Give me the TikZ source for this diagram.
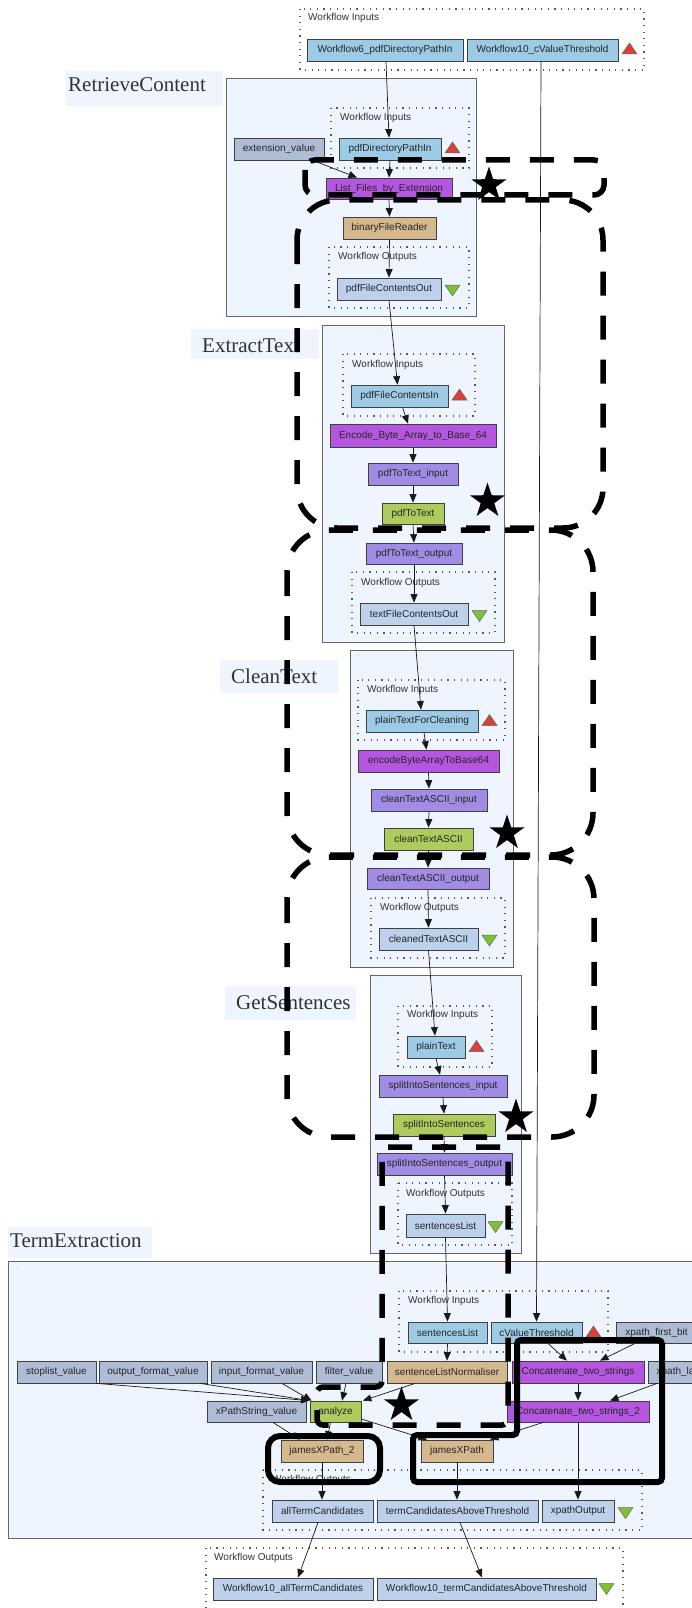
\documentclass[tikz,border=0pt]{standalone}
\usepackage{fontspec}
\setmainfont{Liberation Serif}
\newfontfamily\sansf{Liberation Sans}
\usetikzlibrary{shapes.geometric,arrows.meta}
\definecolor{inblue}{HTML}{9DCBE5}
\definecolor{outblue}{HTML}{BDD0EC}
\definecolor{constc}{HTML}{AFBCD6}
\definecolor{purp}{HTML}{B556E0}
\definecolor{lpurp}{HTML}{A08CE4}
\definecolor{grn}{HTML}{AECB5E}
\definecolor{tanc}{HTML}{D6B88E}
\definecolor{clbg}{HTML}{EFF5FE}
\definecolor{trired}{HTML}{D8403A}
\definecolor{trigreen}{HTML}{7CC231}
\tikzset{
  nd/.style={draw=black!75, line width=0.8pt, inner sep=0pt, font=\sansf\fontsize{10}{12}\selectfont, text=black!85},
  sz/.style n args={2}{minimum width=#1pt, minimum height=#2pt},
  cluster/.style={draw=black!60, line width=0.9pt, fill=clbg},
  dotbox/.style={draw=black!65, line width=1.1pt, dash pattern=on 1.2pt off 5.4pt},
  dotlabel/.style={anchor=west, inner sep=0pt, font=\sansf\fontsize{10}{12}\selectfont, text=black!80},
  title/.style={anchor=base west, inner sep=0pt, font=\fontsize{21}{24}\selectfont, text=black!80},
  titlebg/.style={fill=clbg, draw=none},
  tick/.style={inner sep=0pt, font=\sansf\fontsize{5}{5}\selectfont, text=black!60},
  edge/.style={draw=black!90, line width=0.7pt, -{Triangle[length=8.5pt,width=7pt]}},
  tri/.style={draw=black!60, line width=0.5pt},
  bigdash/.style={draw=black, line width=5.5pt, dash pattern=on 24pt off 20pt},
  bigsolid/.style={draw=black, line width=6pt},
  starn/.style={star, star points=5, star point ratio=2.6, fill=black, draw=none, minimum size=37pt, inner sep=0pt}
}
\newcommand\uptri[2]{\draw[tri, fill=trired] (#1-7.5,#2+5.5) -- (#1+7.5,#2+5.5) -- (#1,#2-5.5) -- cycle;}
\newcommand\dntri[2]{\draw[tri, fill=trigreen] (#1-7.5,#2-5.5) -- (#1+7.5,#2-5.5) -- (#1,#2+5.5) -- cycle;}
\begin{document}
\begin{tikzpicture}[x=1pt,y=-1pt]
\useasboundingbox (0,0) rectangle (692,1608);
\clip (0,0) rectangle (692,1608);
\fill[white] (0,0) rectangle (692,1608);

% clusters
\draw[cluster] (226,78) rectangle (476,316);
\draw[cluster] (322,325) rectangle (504,642);
\draw[cluster] (350,650) rectangle (513,967);
\draw[cluster] (370,975) rectangle (521,1253);
\draw[cluster] (8,1261) rectangle (712,1538);

% cluster titles
\fill[titlebg] (66,71) rectangle (223,106);
\node[title] (tRC) at (68,92) {RetrieveContent};
\fill[titlebg] (191,329) rectangle (319,359);
\node[title] (tET) at (202,352) {ExtractText};
\fill[titlebg] (220,660) rectangle (338,693);
\node[title] (tCT) at (231,683) {CleanText};
\fill[titlebg] (225,986) rectangle (356,1020);
\node[title] (tGS) at (236,1009) {GetSentences};
\fill[titlebg] (8,1227) rectangle (152,1258);
\node[title] (tTE) at (10,1247) {TermExtraction};

\node[tick] (k1) at (378,332) {'};
\node[tick] (k2) at (359,657) {'};
\node[tick] (k3) at (378,983) {'};
\node[tick] (k4) at (17,1270) {'};

% dotted port groups
\draw[dotbox] (300,9) rectangle (644,70);
\node[dotlabel] (l1) at (308,18) {Workflow Inputs};
\draw[dotbox] (331,108) rectangle (469,168);
\node[dotlabel] (l2) at (340,118) {Workflow Inputs};
\draw[dotbox] (329,247) rectangle (469,308);
\node[dotlabel] (l3) at (338,257) {Workflow Outputs};
\draw[dotbox] (343,354) rectangle (475,416);
\node[dotlabel] (l4) at (352,365) {Workflow Inputs};
\draw[dotbox] (352,572) rectangle (495,633);
\node[dotlabel] (l5) at (361,583) {Workflow Outputs};
\draw[dotbox] (358,680) rectangle (505,740);
\node[dotlabel] (l6) at (367,690) {Workflow Inputs};
\draw[dotbox] (371,898) rectangle (505,958);
\node[dotlabel] (l7) at (380,908) {Workflow Outputs};
\draw[dotbox] (398,1006) rectangle (492,1067);
\node[dotlabel] (l8) at (407,1015) {Workflow Inputs};
\draw[dotbox] (398,1183) rectangle (512,1245);
\node[dotlabel] (l9) at (406,1194) {Workflow Outputs};
\draw[dotbox] (399,1291) rectangle (608,1352);
\node[dotlabel] (l10) at (408,1301) {Workflow Inputs};
\draw[dotbox] (263,1470) rectangle (642,1530);
\node[dotlabel] (l11) at (272,1480) {Workflow Outputs};
\draw[dotbox] (206,1548) rectangle (623,1612);
\node[dotlabel] (l12) at (214,1558) {Workflow Outputs};

% nodes
\node[nd, sz={156}{22}, fill=inblue] (wf6) at (385,50) {Workflow6\_pdfDirectoryPathIn};
\node[nd, sz={151}{22}, fill=inblue] (wf10) at (542.5,50) {Workflow10\_cValueThreshold};
\node[nd, sz={90}{22}, fill=constc] (extv) at (279,149) {extension\_value};
\node[nd, sz={102}{22}, fill=inblue] (pdfdir) at (390,149) {pdfDirectoryPathIn};
\node[nd, sz={126}{21}, fill=purp] (lfe) at (389,188.5) {List\_Files\_by\_Extension};
\node[nd, sz={93}{22}, fill=tanc] (bfr) at (389.5,228) {binaryFileReader};
\node[nd, sz={104}{22}, fill=outblue] (pfco) at (389,289) {pdfFileContentsOut};

\node[nd, sz={97}{22}, fill=inblue] (pfci) at (399.5,396) {pdfFileContentsIn};
\node[nd, sz={166}{23}, fill=purp] (enc) at (413,435.5) {Encode\_Byte\_Array\_to\_Base\_64};
\node[nd, sz={90}{22}, fill=lpurp] (pti) at (413,474) {pdfToText\_input};
\node[nd, sz={62}{21}, fill=grn] (ptt) at (413,513.5) {pdfToText};
\node[nd, sz={96}{21}, fill=lpurp] (pto) at (414,553.5) {pdfToText\_output};
\node[nd, sz={108}{22}, fill=outblue] (tfco) at (414,614) {textFileContentsOut};

\node[nd, sz={112}{22}, fill=inblue] (ptfc) at (422,721) {plainTextForCleaning};
\node[nd, sz={141}{22}, fill=purp] (ebab) at (428.5,761) {encodeByteArrayToBase64};
\node[nd, sz={116}{22}, fill=lpurp] (ctai) at (429,800) {cleanTextASCII\_input};
\node[nd, sz={89}{22}, fill=grn] (cta) at (428.5,839) {cleanTextASCII};
\node[nd, sz={122}{21}, fill=lpurp] (ctao) at (428,878.5) {cleanTextASCII\_output};
\node[nd, sz={99}{22}, fill=outblue] (cleaned) at (428.5,939) {cleanedTextASCII};

\node[nd, sz={58}{22}, fill=inblue] (ptx) at (436,1047) {plainText};
\node[nd, sz={128}{22}, fill=lpurp] (ssi) at (443,1086) {splitIntoSentences\_input};
\node[nd, sz={102}{22}, fill=grn] (ss) at (444,1125) {splitIntoSentences};
\node[nd, sz={135}{22}, fill=lpurp] (sso) at (444.5,1164) {splitIntoSentences\_output};
\node[nd, sz={79}{23}, fill=outblue] (slo) at (445.5,1225.5) {sentencesList};

\node[nd, sz={79}{21}, fill=inblue] (sli) at (447.5,1332.5) {sentencesList};
\node[nd, sz={91}{21}, fill=inblue] (cvt) at (536.5,1332.5) {cValueThreshold};
\node[nd, sz={81}{21}, fill=constc] (xfb) at (656.5,1332.5) {xpath\_first\_bit};
\node[nd, sz={79}{22}, fill=constc] (stop) at (56.5,1372) {stoplist\_value};
\node[nd, sz={108}{22}, fill=constc] (ofv) at (153,1372) {output\_format\_value};
\node[nd, sz={101}{22}, fill=constc] (ifv) at (261.5,1372) {input\_format\_value};
\node[nd, sz={66}{22}, fill=constc] (fv) at (349,1372) {filter\_value};
\node[nd, sz={120}{22}, fill=tanc] (sln) at (447,1372) {sentenceListNormaliser};
\node[nd, sz={132}{22}, fill=purp] (c2s) at (578,1372) {Concatenate\_two\_strings};
\node[nd, sz={79}{22}, fill=constc] (xlb) at (687.5,1372) {xpath\_last\_bit};
\node[nd, sz={99}{21}, fill=constc] (xps) at (256.5,1411.5) {xPathString\_value};
\node[nd, sz={51}{21}, fill=grn] (an) at (335.5,1411.5) {analyze};
\node[nd, sz={142}{21}, fill=purp] (c2s2) at (578,1411.5) {Concatenate\_two\_strings\_2};
\node[nd, sz={82}{22}, fill=tanc] (jx2) at (322,1451) {jamesXPath\_2};
\node[nd, sz={72}{22}, fill=tanc] (jx) at (457,1451) {jamesXPath};
\node[nd, sz={101}{22}, fill=outblue] (atc) at (322.5,1511) {allTermCandidates};
\node[nd, sz={161}{22}, fill=outblue] (tcat) at (457.5,1511) {termCandidatesAboveThreshold};
\node[nd, sz={72}{22}, fill=outblue] (xo) at (578,1511) {xpathOutput};

\node[nd, sz={160}{22}, fill=outblue] (watc) at (293,1589) {Workflow10\_allTermCandidates};
\node[nd, sz={219}{22}, fill=outblue] (wtcat) at (486.5,1589) {Workflow10\_termCandidatesAboveThreshold};

% edges
\draw[edge] ([xshift=1pt]wf6.south) -- ([xshift=-1pt]pdfdir.north);
\draw[edge] ([xshift=-1.5pt]wf10.south) -- (cvt.north);
\draw[edge] ([xshift=34pt]extv.south) -- ([xshift=-32pt]lfe.north);
\draw[edge] (pdfdir.south) -- (lfe.north);
\draw[edge] (lfe.south) -- (bfr.south |- bfr.north);
\draw[edge] (bfr.south) -- (pfco.north);
\draw[edge] (pfco.south) -- ([xshift=-2pt]pfci.north);
\draw[edge] ([xshift=3pt]pfci.south) -- ([xshift=-5pt]enc.north);
\draw[edge] (enc.south) -- (pti.north);
\draw[edge] (pti.south) -- (ptt.north);
\draw[edge] (ptt.south) -- (pto.north);
\draw[edge] (pto.south) -- (tfco.north);
\draw[edge] (tfco.south) -- ([xshift=-1pt]ptfc.north);
\draw[edge] ([xshift=2pt]ptfc.south) -- ([xshift=-2pt]ebab.north);
\draw[edge] (ebab.south) -- (ctai.north);
\draw[edge] (ctai.south) -- (cta.north);
\draw[edge] (cta.south) -- (ctao.north);
\draw[edge] (ctao.south) -- (cleaned.north);
\draw[edge] (cleaned.south) -- ([xshift=-1pt]ptx.north);
\draw[edge] (ptx.south) -- ([xshift=-3pt]ssi.north);
\draw[edge] (ssi.south) -- (ss.north);
\draw[edge] (ss.south) -- (sso.north);
\draw[edge] (sso.south) -- (slo.north);
\draw[edge] (slo.south) -- (sli.north);
\draw[edge] (sli.south) -- (sln.north);
\draw[edge] ([xshift=11.5pt]cvt.south) -- ([xshift=-11pt]c2s.north);
\draw[edge] ([xshift=-21.5pt]xfb.south) -- ([xshift=22pt]c2s.north);
\draw[edge] (c2s.south) -- (c2s2.north);
\draw[edge] ([xshift=-30.5pt]xlb.south) -- ([xshift=32pt]c2s2.north);
\draw[edge] ([xshift=-35pt]c2s2.south) -- ([xshift=33pt]jx.north);
\draw[edge] (c2s2.south) -- (xo.north);
\draw[edge] ([yshift=-7.5pt]an.east) -- ([xshift=-30pt]jx.north);
\draw[edge] ([xshift=-5pt]an.south) -- ([xshift=5pt]jx2.north);
\draw[edge] ([xshift=16.5pt]xps.south) -- ([xshift=-22pt]jx2.north);
\draw[edge] ([xshift=0.5pt]stop.south east) -- (an.north west);
\draw[edge] ([xshift=-7pt]ofv.south east) -- (an.north west);
\draw[edge] ([xshift=20.5pt]ifv.south) -- ([xshift=2pt]an.north west);
\draw[edge] ([xshift=-3pt]fv.south) -- ([xshift=6.5pt]an.north);
\draw[edge] ([xshift=-32pt]sln.south) -- ([xshift=1.5pt]an.north east);
\draw[edge] (jx2.south) -- (atc.north -| jx2.south);
\draw[edge] (jx.south) -- (tcat.north -| jx.south);
\draw[edge] ([xshift=-4.5pt]atc.south) -- ([xshift=5pt]watc.north);
\draw[edge] ([xshift=2.5pt]tcat.south) -- ([xshift=-4.5pt]wtcat.north);

% port triangles
\uptri{629.5}{48.5}
\uptri{452.5}{147.5}
\uptri{459.5}{394.5}
\uptri{489.5}{720}
\uptri{476.5}{1046}
\uptri{593.5}{1331.5}
\dntri{452.5}{290.5}
\dntri{479.5}{616}
\dntri{489.5}{940.5}
\dntri{495.5}{1227}
\dntri{625.5}{1513}
\dntri{606.5}{1589}

% highlight overlays
\draw[bigdash, rounded corners=10pt] (305,160) rectangle (604,195);
\draw[bigdash, rounded corners=40pt] (297,200) rectangle (603,528);
\draw[bigdash, rounded corners=42pt] (287,530) rectangle (593,855);
\draw[bigdash, rounded corners=42pt] (287,857) rectangle (594,1137);
\draw[bigdash, rounded corners=6pt] (382,1147) -- (508,1147) -- (508,1425) -- (317,1425) -- (317,1387) -- (382,1387) -- cycle;

\node[starn] (s1) at (489,185) {};
\node[starn] (s2) at (487.5,501) {};
\node[starn] (s3) at (507,833) {};
\node[starn] (s4) at (516,1117) {};
\node[starn] (s5) at (401.5,1405) {};

\draw[bigsolid, rounded corners=12pt] (268,1436) rectangle (380,1482);
\draw[bigsolid, rounded corners=4pt] (517,1340) -- (662,1340) -- (662,1482) -- (413,1482) -- (413,1435) -- (517,1435) -- cycle;
\end{tikzpicture}
\end{document}
